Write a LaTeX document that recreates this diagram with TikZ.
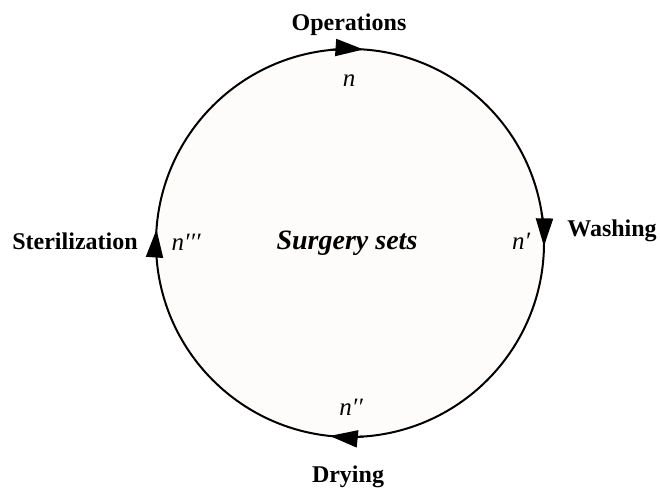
\documentclass[tikz,border=0pt]{standalone}
\usepackage{fontspec}
\setmainfont{Liberation Serif}
\usetikzlibrary{arrows.meta}
\definecolor{ringfill}{RGB}{254,252,250}
\tikzset{
  x=1pt,y=1pt,
  stage/.style={font=\fontsize{24}{26}\selectfont\bfseries, inner sep=0pt},
  count/.style={font=\fontsize{25}{27}\selectfont\itshape, inner sep=0pt},
  flowtip/.style={line width=2pt,-{Triangle[length=28pt,width=17pt]}},
}
\begin{document}
\begin{tikzpicture}
\useasboundingbox (0,0) rectangle (660,489);
\node[circle, draw, line width=2pt, fill=ringfill, minimum size=388pt, inner sep=0pt] (ring) at (350,246) {};
\node[font=\fontsize{28}{30}\selectfont\bfseries\itshape, inner sep=0pt] (sets) at (347,246) {Surgery sets};
\node[stage] (op) at (349,464) {Operations};
\node[stage] (wash) at (612,258) {Washing};
\node[stage] (steril) at (75,248) {Sterilization};
\node[stage] (dry) at (348,12) {Drying};
\node[count] (n0) at (349,408) {n};
\node[count] (n1) at (521,248) {n′};
\node[count] (n2) at (351,82) {n′′};
\node[count] (n3) at (186,247) {n′′′};
\draw[flowtip] (ring.center) ++(96:194) arc (96:86:194);
\draw[flowtip] (ring.center) ++(9:194) arc (9:-1:194);
\draw[flowtip] (ring.center) ++(274:194) arc (274:264:194);
\draw[flowtip] (ring.center) ++(184:194) arc (184:176:194);
\end{tikzpicture}
\end{document}
